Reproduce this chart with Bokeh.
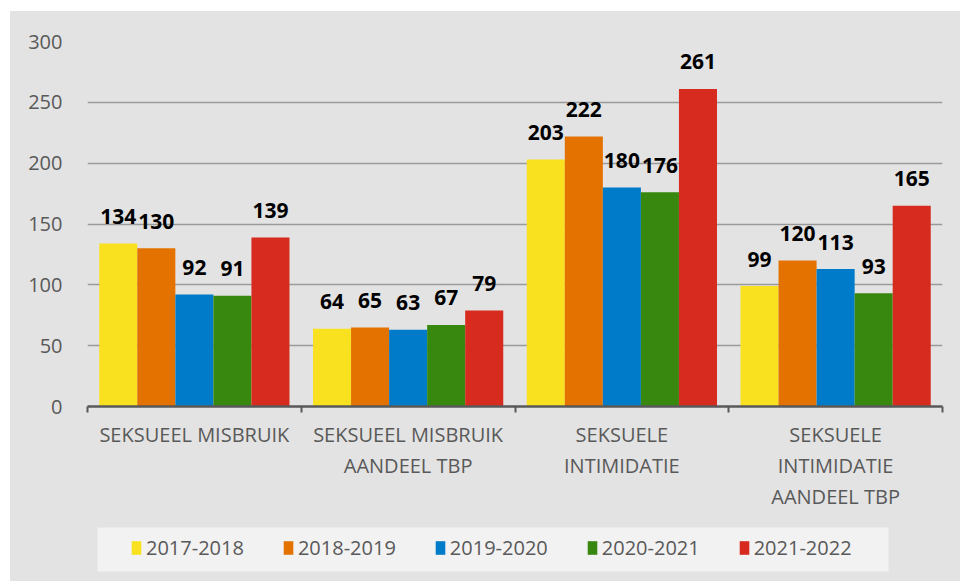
from bokeh.plotting import figure
from bokeh.layouts import column
from bokeh.models import (ColumnDataSource, Range1d, FixedTicker, Legend, LegendItem)
from bokeh.transform import dodge
from bokeh.core.properties import value
from bokeh.embed import file_html
from bokeh.resources import INLINE

# ---- data ----
categories = ["SEKSUEEL MISBRUIK", "SEKSUEEL MISBRUIK\nAANDEEL TBP",
              "SEKSUELE\nINTIMIDATIE", "SEKSUELE\nINTIMIDATIE\nAANDEEL TBP"]
series_names = ["2017-2018", "2018-2019", "2019-2020", "2020-2021", "2021-2022"]
s2017_2018 = [134, 64, 203, 99]
s2018_2019 = [130, 65, 222, 120]
s2019_2020 = [92, 63, 180, 113]
s2020_2021 = [91, 67, 176, 93]
s2021_2022 = [139, 79, 261, 165]
y_ticks = [0, 50, 100, 150, 200, 250, 300]

series_values = [s2017_2018, s2018_2019, s2019_2020, s2020_2021, s2021_2022]
colors = ["#F9E11F", "#E37200", "#007BC9", "#38870E", "#D72B1F"]

FONT = "Open Sans"
GREY_TXT = "#595959"
BG = "#e3e3e3"

n = len(categories)
centers = [i + 0.5 for i in range(n)]
bounds = [i for i in range(n + 1)]

# ---- main chart ----
p = figure(width=950, height=505,
           x_range=Range1d(0, n), y_range=Range1d(0, 300),
           output_backend="svg", toolbar_location=None,
           min_border_left=77, min_border_right=18, min_border_top=30,
           min_border_bottom=110, frame_align=False)

p.background_fill_color = BG
p.border_fill_color = BG
p.outline_line_color = None

bar_w = 0.178
offsets = [(k - 2) * bar_w for k in range(5)]

for name, vals, col, off in zip(series_names, series_values, colors, offsets):
    src = ColumnDataSource(dict(x=centers, top=vals, lab=[str(v) for v in vals]))
    p.vbar(x=dodge("x", off), top="top", width=bar_w, source=src,
           fill_color=col, line_color=None)
    p.text(x=dodge("x", off), y="top", text="lab", source=src,
           text_font=value(FONT), text_font_style="bold",
           text_font_size="21px", text_color="black",
           text_align="center", text_baseline="middle", y_offset=-27)

# y axis
p.yaxis.ticker = FixedTicker(ticks=y_ticks)
p.yaxis.axis_line_color = None
p.yaxis.major_tick_line_color = None
p.yaxis.minor_tick_line_color = None
p.yaxis.major_tick_out = 0
p.yaxis.major_label_standoff = 25
p.yaxis.major_label_text_font = FONT
p.yaxis.major_label_text_font_size = "20px"
p.yaxis.major_label_text_color = GREY_TXT

# grid
p.ygrid.ticker = FixedTicker(ticks=y_ticks[1:])
p.ygrid.grid_line_color = "#9a9a9a"
p.ygrid.grid_line_width = 1.5
p.xgrid.grid_line_color = None

# x axis: labels at centers, boundary tick marks as minor ticks
p.xaxis.ticker = FixedTicker(ticks=centers, minor_ticks=bounds)
p.xaxis.major_label_overrides = {c: lab for c, lab in zip(centers, categories)}
p.xaxis.major_tick_line_color = None
p.xaxis.major_tick_out = 0
p.xaxis.minor_tick_line_color = GREY_TXT
p.xaxis.minor_tick_line_width = 2
p.xaxis.minor_tick_in = 0
p.xaxis.minor_tick_out = 6
p.xaxis.axis_line_color = GREY_TXT
p.xaxis.axis_line_width = 2.5
p.xaxis.major_label_standoff = 8
p.xaxis.major_label_text_font = FONT
p.xaxis.major_label_text_font_size = "20px"
p.xaxis.major_label_text_color = GREY_TXT
p.xaxis.major_label_text_line_height = 1.15

# ---- legend strip ----
lg = figure(width=950, height=65, x_range=Range1d(0, 1), y_range=Range1d(0, 1),
            output_backend="svg", toolbar_location=None,
            min_border_left=87, min_border_right=72, min_border_top=11,
            min_border_bottom=10, frame_align=False)
lg.background_fill_color = "#f2f2f2"
lg.border_fill_color = BG
lg.outline_line_color = None
lg.axis.visible = False
lg.grid.visible = False

items = []
for name, col in zip(series_names, colors):
    # zero-height proxy glyph, only used to draw the legend swatch
    proxy = lg.vbar(x=[0.5], top=[0], bottom=[0], width=0.01,
                    fill_color=col, line_color=None)
    items.append(LegendItem(label=name, renderers=[proxy]))

legend = Legend(items=items, orientation="horizontal", location=(33, 10),
                background_fill_alpha=0, border_line_color=None,
                label_text_font=FONT, label_text_font_size="20px",
                label_text_color=GREY_TXT, label_height=24,
                glyph_width=12, glyph_height=17, label_standoff=4,
                spacing=38, padding=0, margin=0)
lg.add_layout(legend, "center")

layout = column(p, lg, spacing=0)
layout.styles = {"margin-left": "10px", "margin-top": "11px",
                 "background-color": BG}

open("out.html", "w").write(file_html(layout, INLINE))
